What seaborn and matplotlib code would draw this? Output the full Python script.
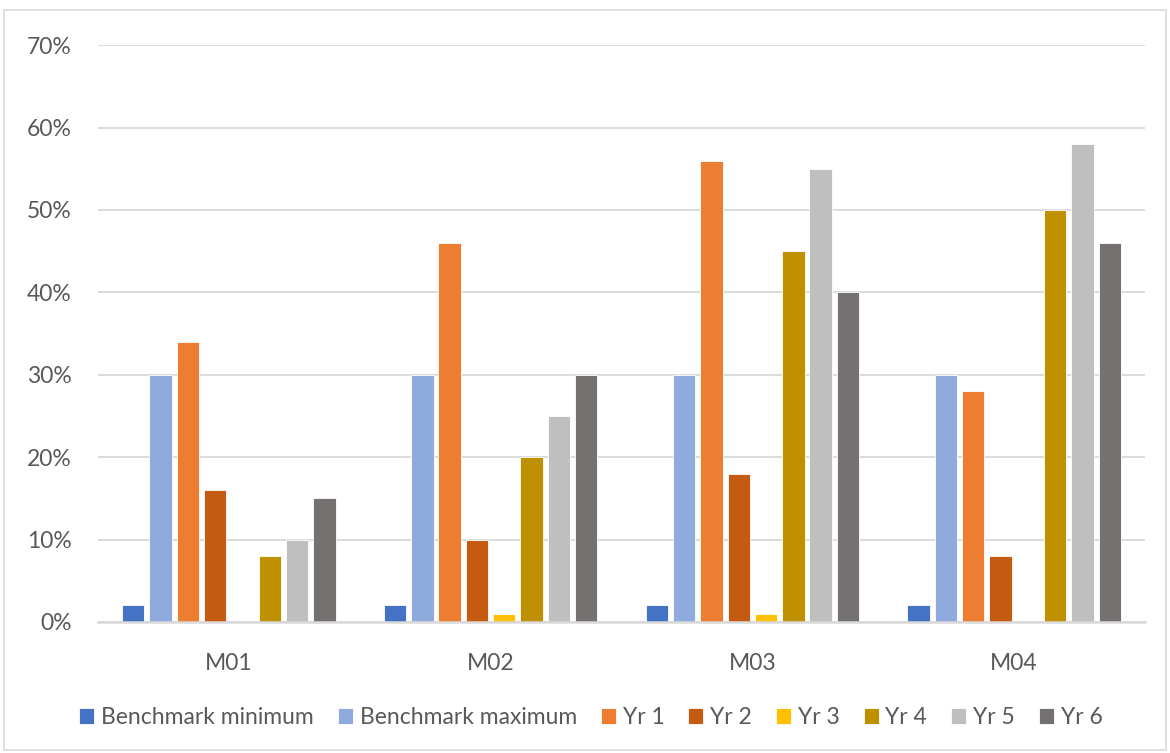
import matplotlib
matplotlib.use("Agg")
import matplotlib.pyplot as plt
from matplotlib.patches import Rectangle
from matplotlib.ticker import PercentFormatter, MultipleLocator
import pandas as pd
import seaborn as sns

# Measures and series
measures = ["M01", "M02", "M03", "M04"]
series = ["Benchmark minimum", "Benchmark maximum", "Yr 1", "Yr 2",
          "Yr 3", "Yr 4", "Yr 5", "Yr 6"]

bench_min = [0.02, 0.02, 0.02, 0.02]
bench_max = [0.30, 0.30, 0.30, 0.30]
yr1 = [0.34, 0.46, 0.56, 0.28]
yr2 = [0.16, 0.10, 0.18, 0.08]
yr3 = [0.00, 0.01, 0.01, 0.00]
yr4 = [0.08, 0.20, 0.45, 0.50]
yr5 = [0.10, 0.25, 0.55, 0.58]
yr6 = [0.15, 0.30, 0.40, 0.46]

colors = ["#4472C4", "#8FAADC", "#ED7D31", "#C55A11",
          "#FFC000", "#BF9000", "#BFBFBF", "#767171"]

values = [bench_min, bench_max, yr1, yr2, yr3, yr4, yr5, yr6]
df = pd.DataFrame(
    [(m, s, v) for s, vals in zip(series, values) for m, v in zip(measures, vals)],
    columns=["measure", "series", "value"],
)

sns.set_theme(style="white")
plt.rcParams["font.family"] = ["Lato", "DejaVu Sans"]

text_color = "#595959"
grid_color = "#D9D9D9"

fig = plt.figure(figsize=(11.7, 7.53), dpi=100)
ax = fig.add_axes([0.0838, 0.174, 0.8948, 0.766])

sns.barplot(
    data=df, x="measure", y="value", hue="series",
    order=measures, hue_order=series,
    palette=dict(zip(series, colors)),
    width=0.835, gap=0.18, saturation=1, errorbar=None,
    edgecolor="white", linewidth=0.6, zorder=3, ax=ax,
)

ax.set_xlim(-0.5, 3.5)
ax.set_ylim(0, 0.7)
ax.yaxis.set_major_locator(MultipleLocator(0.1))
ax.yaxis.set_major_formatter(PercentFormatter(1.0, decimals=0))
ax.grid(axis="y", color=grid_color, linewidth=1.3, zorder=0)
ax.set_axisbelow(True)
for side in ["top", "right", "left"]:
    ax.spines[side].set_visible(False)
ax.spines["bottom"].set_color(grid_color)
ax.spines["bottom"].set_linewidth(1.8)
ax.spines["bottom"].set_zorder(4)
ax.set_xlabel("")
ax.set_ylabel("")
ax.tick_params(axis="both", length=0, labelsize=16.5, colors=text_color)
ax.tick_params(axis="y", pad=19)
ax.tick_params(axis="x", pad=22)

handles, labels = ax.get_legend_handles_labels()
ax.get_legend().remove()
fig.legend(
    handles, labels, loc="center", bbox_to_anchor=(0.505, 0.047),
    ncol=8, frameon=False, fontsize=16.5, labelcolor=text_color,
    handlelength=0.65, handleheight=0.65, handletextpad=0.3,
    columnspacing=1.05,
)

# Chart border
fig.patches.append(Rectangle((4 / 1170, 3 / 753), 1162 / 1170, 740 / 753,
                             transform=fig.transFigure, fill=False,
                             edgecolor=grid_color, linewidth=1.2))

fig.savefig("out.png", dpi=100)
